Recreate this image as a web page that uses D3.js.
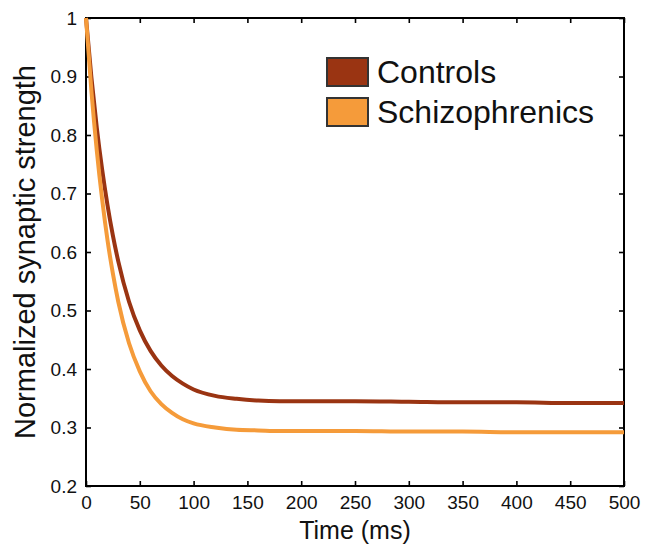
<!DOCTYPE html>
<html>
<head>
<meta charset="utf-8">
<script src="https://cdn.jsdelivr.net/npm/d3@7"></script>
<style>
  body { margin: 0; background: #fff; }
  text { font-family: "Liberation Sans", Arial, sans-serif; fill: #111; }
</style>
</head>
<body>
<div id="chart"></div>
<script>
// values
var times        = [0, 5, 10, 15, 20, 25, 30, 40, 50, 60, 70, 80, 90, 100, 120, 140, 160, 180, 200, 250, 300, 350, 400, 450, 500];
var controls     = [1.0, 0.899, 0.813, 0.741, 0.680, 0.628, 0.584, 0.515, 0.466, 0.431, 0.406, 0.388, 0.375, 0.365, 0.354, 0.349, 0.346, 0.345, 0.345, 0.345, 0.344, 0.343, 0.343, 0.342, 0.342];
var schizophrenics = [1.0, 0.876, 0.774, 0.690, 0.620, 0.563, 0.515, 0.444, 0.396, 0.362, 0.340, 0.325, 0.314, 0.307, 0.300, 0.296, 0.295, 0.294, 0.294, 0.294, 0.293, 0.293, 0.292, 0.292, 0.292];
var seriesNames  = ["Controls", "Schizophrenics"];
var seriesColors = ["#9a3412", "#f59b3a"];
var xTicks = [0, 50, 100, 150, 200, 250, 300, 350, 400, 450, 500];
var yTicks = [0.2, 0.3, 0.4, 0.5, 0.6, 0.7, 0.8, 0.9, 1];

var W = 653, H = 548;
var margin = { top: 18, right: 29, bottom: 62, left: 86 },
    width = W - margin.left - margin.right,
    height = H - margin.top - margin.bottom;

var svg = d3.select("#chart").append("svg")
    .attr("width", W).attr("height", H);
var g = svg.append("g")
    .attr("transform", "translate(" + margin.left + "," + margin.top + ")");

var x = d3.scaleLinear().domain([0, 500]).range([0, width]);
var y = d3.scaleLinear().domain([0.2, 1]).range([height, 0]);

// axes, ticks pointing inward on all four sides
function styleAxis(sel, fontSize) {
  sel.attr("font-size", fontSize).attr("font-family", null);
  sel.select(".domain").remove();
  sel.selectAll(".tick line").attr("stroke", "#000").attr("stroke-width", 1.6);
  sel.selectAll(".tick text")
    .attr("font-size", fontSize)
    .style("font-size", fontSize + "px")
    .attr("fill", "#111");
}
g.append("g").attr("transform", "translate(0," + height + ")")
  .call(d3.axisBottom(x).tickValues(xTicks).tickSizeInner(-5).tickSizeOuter(0).tickPadding(10).tickFormat(d3.format("d")))
  .call(styleAxis, 19);
g.append("g")
  .call(d3.axisTop(x).tickValues(xTicks).tickSizeInner(-5).tickSizeOuter(0).tickFormat(""))
  .call(styleAxis, 19);
g.append("g")
  .call(d3.axisLeft(y).tickValues(yTicks).tickSizeInner(-5).tickSizeOuter(0).tickPadding(9).tickFormat(function (d) { return d === 1 ? "1" : d3.format(".1f")(d); }))
  .call(styleAxis, 19);
g.append("g").attr("transform", "translate(" + width + ",0)")
  .call(d3.axisRight(y).tickValues(yTicks).tickSizeInner(-5).tickSizeOuter(0).tickFormat(""))
  .call(styleAxis, 19);

g.append("rect")
  .attr("width", width).attr("height", height)
  .attr("fill", "none").attr("stroke", "#000").attr("stroke-width", 2);

// curves
var line = d3.line()
  .x(function (d) { return x(d[0]); })
  .y(function (d) { return y(d[1]); })
  .curve(d3.curveMonotoneX);

[controls, schizophrenics].forEach(function (vals, i) {
  g.append("path")
    .datum(times.map(function (t, j) { return [t, vals[j]]; }))
    .attr("fill", "none")
    .attr("stroke", seriesColors[i])
    .attr("stroke-width", 4)
    .attr("d", line);
});

// legend
var legend = svg.append("g").attr("transform", "translate(327,58)");
seriesNames.forEach(function (name, i) {
  var row = legend.append("g").attr("transform", "translate(0," + (i * 40) + ")");
  row.append("rect")
    .attr("width", 41).attr("height", 28)
    .attr("fill", seriesColors[i]).attr("stroke", "#333").attr("stroke-width", 2);
  row.append("text")
    .attr("x", 50).attr("y", 25)
    .style("font-size", "32px")
    .text(name);
});

// axis titles
svg.append("text")
  .attr("x", margin.left + width / 2).attr("y", 539)
  .attr("text-anchor", "middle")
  .style("font-size", "25px")
  .text("Time (ms)");
svg.append("text")
  .attr("transform", "translate(35," + (margin.top + height / 2) + ") rotate(-90)")
  .attr("text-anchor", "middle")
  .style("font-size", "29px")
  .text("Normalized synaptic strength");
</script>
</body>
</html>
